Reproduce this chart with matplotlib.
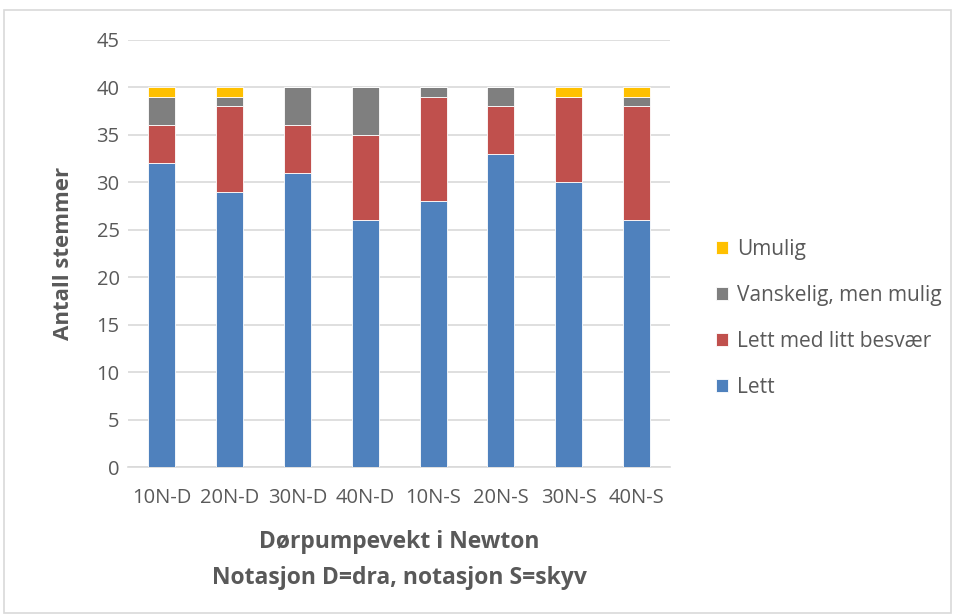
import numpy as np
import matplotlib.pyplot as plt
from matplotlib.patches import Rectangle

plt.rcParams['font.family'] = ['Open Sans', 'DejaVu Sans']

# Data
categories = ["10N-D", "20N-D", "30N-D", "40N-D", "10N-S", "20N-S", "30N-S", "40N-S"]
lett = [32, 29, 31, 26, 28, 33, 30, 26]
lett_med_besvaer = [4, 9, 5, 9, 11, 5, 9, 12]
vanskelig = [3, 1, 4, 5, 1, 2, 0, 1]
umulig = [1, 1, 0, 0, 0, 0, 1, 1]

series = [
    ("Lett", lett, "#4F81BD"),
    ("Lett med litt besvær", lett_med_besvaer, "#C0504D"),
    ("Vanskelig, men mulig", vanskelig, "#7F7F7F"),
    ("Umulig", umulig, "#FFC000"),
]

text_col = "#595959"

fig = plt.figure(figsize=(9.55, 6.14), dpi=100)
ax = fig.add_axes([0.134, 0.239, 0.568, 0.696])

x = np.arange(len(categories))
bottom = np.zeros(len(categories))
handles = []
for name, vals, col in series:
    vals = np.array(vals, dtype=float)
    b = ax.bar(x, vals, width=0.4, bottom=bottom, color=col, label=name,
               edgecolor="white", linewidth=0.6, zorder=3)
    handles.append(b)
    bottom += vals

ax.set_ylim(0, 45)
ax.set_xlim(-0.5, len(categories) - 0.5)
ax.set_yticks(range(0, 46, 5))
ax.set_xticks(x)
ax.set_xticklabels(categories)
ax.yaxis.grid(True, color="#D9D9D9", linewidth=1.2, zorder=0)
ax.tick_params(axis="both", length=0, labelsize=14.5, colors=text_col)
ax.tick_params(axis="x", pad=15)
ax.tick_params(axis="y", pad=6)
for s in ["top", "right", "left"]:
    ax.spines[s].set_visible(False)
ax.spines["bottom"].set_color("#D9D9D9")
ax.spines["bottom"].set_linewidth(1.2)

ax.set_ylabel("Antall stemmer", fontsize=16, fontweight="bold", color=text_col, labelpad=16)
ax.set_xlabel("Dørpumpevekt i Newton\nNotasjon D=dra, notasjon S=skyv", fontsize=16.5,
              fontweight="bold", color=text_col, labelpad=16, linespacing=1.65)

leg = fig.legend(handles[::-1], [s[0] for s in series][::-1], loc="center left",
                 bbox_to_anchor=(0.73, 0.481), frameon=False, fontsize=15,
                 handlelength=0.6, handleheight=0.6, handletextpad=0.4,
                 labelspacing=1.2, labelcolor=text_col)

# outer chart border
fig.patches.append(Rectangle((0.004, 0.002), 0.992, 0.982, transform=fig.transFigure,
                             fill=False, edgecolor="#D9D9D9", linewidth=1.2))

fig.savefig("out.png", dpi=100)
